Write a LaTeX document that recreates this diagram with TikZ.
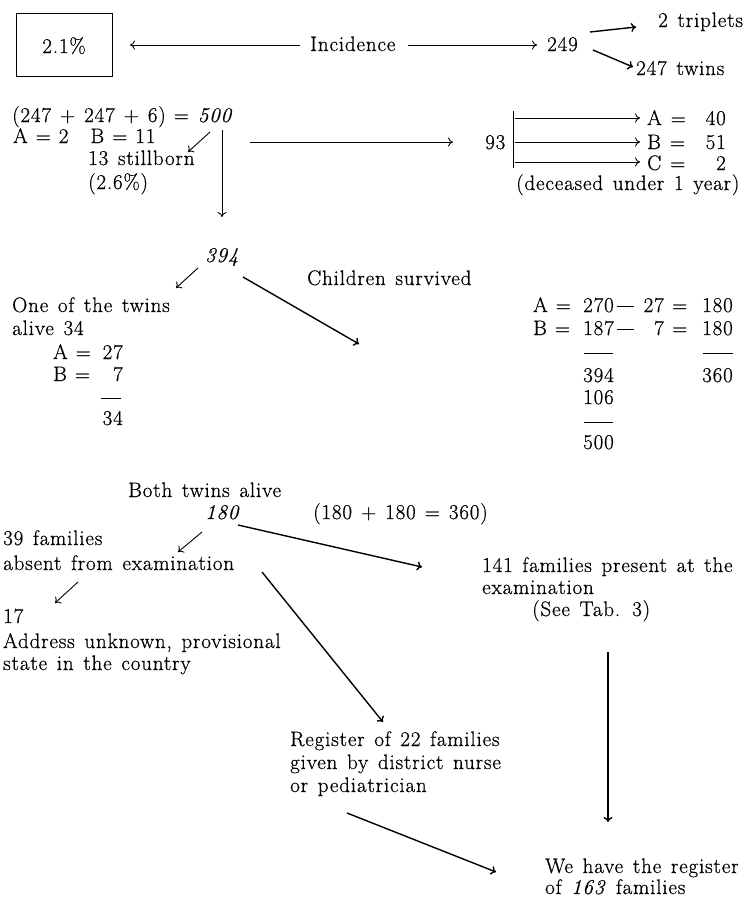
\documentclass[tikz,border=0pt]{standalone}
\usepackage{fontspec}
\setmainfont{Latin Modern Roman}[LetterSpace=4,WordSpace=1.35,FakeBold=0.6]
\usetikzlibrary{arrows.meta}
\newcommand\gap[1]{\hspace{#1pt}}
\begin{document}
\begin{tikzpicture}[x=1pt,y=-1pt,
  txt/.style={inner sep=0pt,anchor=base west,font=\fontsize{21}{25}\selectfont},
  arr/.style={-{To[length=5pt,width=9pt]},line width=0.9pt},
  arrb/.style={-{To[length=5pt,width=9pt]},line width=1.4pt}]
\useasboundingbox (0,0) rectangle (745,897);
% --- row 1
\draw[line width=0.8pt] (16,13) rectangle (112,76);
\node[txt,anchor=base] (pct) at (64,53) {2.1\%};
\node[txt] (inc) at (310,51) {Incidence};
\node[txt] (n249) at (547,51) {249};
\node[txt] (trip) at (658,27) {2 triplets};
\node[txt] (twins) at (636,75) {247 twins};
\coordinate (a1s) at (300,45); \coordinate (a1e) at (130,45);
\coordinate (a2s) at (408,45); \coordinate (a2e) at (537,45);
\coordinate (a3s) at (590,32); \coordinate (a3e) at (636,27);
\coordinate (a4s) at (593,50); \coordinate (a4e) at (633,67);
\draw[arr] (a1s) -- (a1e);
\draw[arr] (a2s) -- (a2e);
\draw[arrb] (a3s) -- (a3e);
\draw[arrb] (a4s) -- (a4e);
% --- row 2
\node[txt] (sum) at (12,122) {(247\gap9+\gap9247\gap9+\gap96)\gap8=\gap9\textit{500}};
\node[txt] (ab) at (13,143) {A\gap8=\gap82\gap{22}B\gap8=\gap811};
\node[txt] (still) at (88,165) {13 stillborn};
\node[txt] (pc26) at (88,189) {(2.6\%)};
\coordinate (a5s) at (210,132); \coordinate (a5e) at (188,152);
\draw[arr] (a5s) -- (a5e);
\coordinate (a6s) at (222,130); \coordinate (a6e) at (222,217);
\draw[arr] (a6s) -- (a6e);
\coordinate (a7s) at (250,142); \coordinate (a7e) at (453,142);
\draw[arr] (a7s) -- (a7e);
\node[txt] (n93) at (485,149) {93};
\coordinate (bt) at (513,111); \coordinate (bb) at (513,168);
\draw[line width=0.9pt] (bt) -- (bb);
\node[txt] (A40) at (647,125) {A\gap9=};
\node[txt] (B51) at (647,149) {B\gap9=};
\node[txt] (C2) at (647,170) {C\gap9=};
\node[txt,anchor=base east] (A40n) at (726,125) {40};
\node[txt,anchor=base east] (B51n) at (726,149) {51};
\node[txt,anchor=base east] (C2n) at (726,170) {2};
\foreach \y/\n in {118/A40,142/B51,162/C2}{
  \coordinate (s\n) at (515,\y); \coordinate (e\n) at (640,\y);
  \draw[arr] (s\n) -- (e\n);
}
\node[txt] (dec) at (516,190) {(deceased under 1 year)};
% --- 394
\node[txt] (n394) at (205,262) {\textit{394}};
\coordinate (a8s) at (198,268); \coordinate (a8e) at (176,288);
\draw[arr] (a8s) -- (a8e);
\coordinate (a9s) at (243,277); \coordinate (a9e) at (359,344);
\draw[arrb] (a9s) -- (a9e);
\node[txt] (surv) at (307,285) {Children survived};
\node[txt] (one) at (12,312) {One of the twins};
\node[txt] (alive) at (12,335) {alive 34};
\node[txt] (lA) at (53,359) {A\gap8=};
\node[txt,anchor=base east] (lA27) at (123,359) {27};
\node[txt] (lB) at (53,381) {B\gap8=};
\node[txt,anchor=base east] (lB7) at (123,381) {7};
\draw[line width=0.8pt] (101,398) -- (121,398);
\node[txt,anchor=base east] (l34) at (123,425) {34};
% right block
\node[txt] (rA) at (533,312) {A\gap8=};
\node[txt] (rB) at (533,335) {B\gap8=};
\node[txt] (r270) at (583,312) {270};
\node[txt] (r187) at (583,335) {187};
\draw[line width=0.9pt] (617,306) -- (634,306);
\draw[line width=0.9pt] (617,329) -- (634,329);
\node[txt,anchor=base east] (r27) at (664,312) {27};
\node[txt,anchor=base east] (r7) at (664,335) {7};
\node[txt] (re1) at (672,312) {=};
\node[txt] (re2) at (672,335) {=};
\node[txt] (r180a) at (702,312) {180};
\node[txt] (r180b) at (702,335) {180};
\draw[line width=0.8pt] (584,353) -- (613,353);
\draw[line width=0.8pt] (703,353) -- (733,353);
\node[txt] (r394) at (583,382) {394};
\node[txt] (r360) at (702,382) {360};
\node[txt] (r106) at (583,404) {106};
\draw[line width=0.8pt] (584,422) -- (613,422);
\node[txt] (r500) at (583,449) {500};
% --- both twins
\node[txt] (both) at (128,497) {Both twins alive};
\node[txt] (n180) at (205,519) {\textit{180}};
\node[txt] (sum2) at (313,519) {(180\gap9+\gap9180\gap9=\gap9360)};
\node[txt] (f39) at (3,545) {39 families};
\node[txt] (absent) at (3,570) {absent from examination};
\node[txt] (f141) at (482,572) {141 families present at the};
\node[txt] (exam) at (482,594) {examination};
\node[txt] (tab) at (532,616) {(See Tab. 3)};
\node[txt] (n17) at (3,623) {17};
\node[txt] (addr) at (3,648) {Address unknown, provisional};
\node[txt] (state) at (3,670) {state in the country};
\node[txt] (reg) at (290,746) {Register of 22 families};
\node[txt] (given) at (290,769) {given by district nurse};
\node[txt] (ped) at (290,792) {or pediatrician};
\node[txt] (we) at (545,873) {We have the register};
\node[txt] (of163) at (545,894) {of \textit{163} families};
\coordinate (a10s) at (202,532); \coordinate (a10e) at (178,552);
\coordinate (a11s) at (238,525); \coordinate (a11e) at (422,567);
\coordinate (a12s) at (78,582); \coordinate (a12e) at (55,603);
\coordinate (a13s) at (262,572); \coordinate (a13e) at (383,722);
\coordinate (a14s) at (608,652); \coordinate (a14e) at (608,822);
\coordinate (a15s) at (347,813); \coordinate (a15e) at (496,872);
\draw[arr] (a10s) -- (a10e);
\draw[arrb] (a11s) -- (a11e);
\draw[arr] (a12s) -- (a12e);
\draw[arrb] (a13s) -- (a13e);
\draw[arrb] (a14s) -- (a14e);
\draw[arrb] (a15s) -- (a15e);
\end{tikzpicture}
\end{document}
